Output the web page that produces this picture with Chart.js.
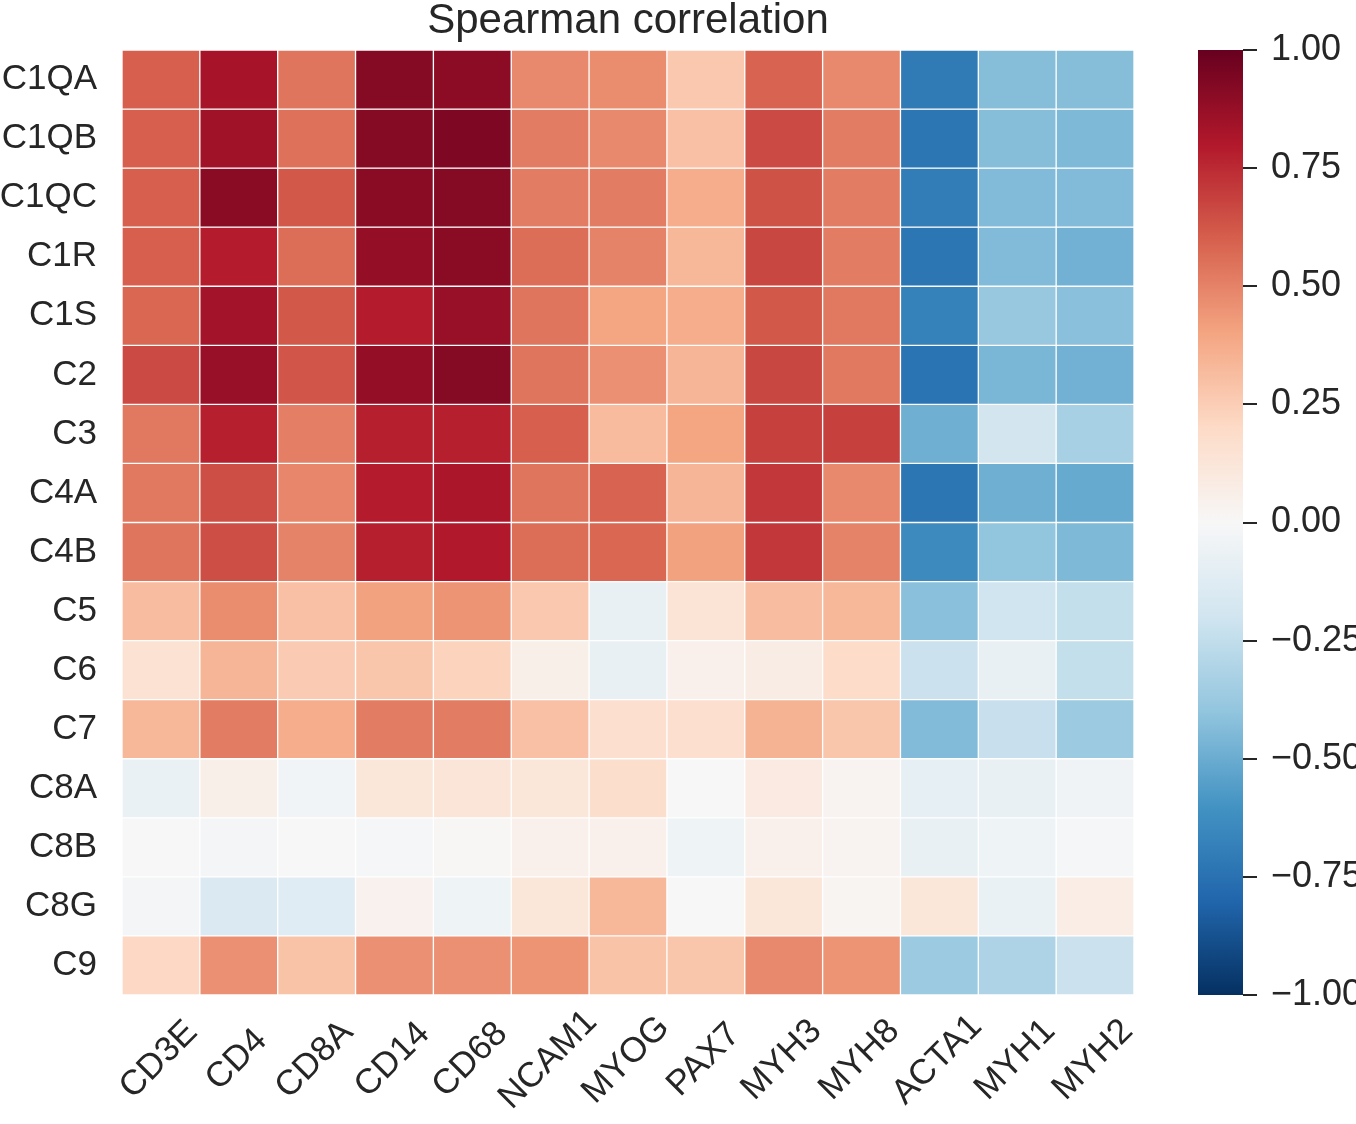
<!DOCTYPE html>
<html>
<head>
<meta charset="utf-8">
<title>Spearman correlation</title>
<script src="https://cdn.jsdelivr.net/npm/chart.js@4.4.1/dist/chart.umd.min.js"></script>
<style>
    html, body { margin: 0; padding: 0; background: #fff; overflow: hidden; }
    body { width: 1356px; height: 1124px; position: relative; }
    #heatmap { position: absolute; left: 0; top: 0; }
    #colorbar { position: absolute; left: 1150px; top: 0; }
</style>
</head>
<body>
<canvas id="heatmap" width="1150" height="1124"></canvas>
<canvas id="colorbar" width="260" height="1124"></canvas>
<script>
// =========================================
// Spearman correlation heatmap (complement genes vs. cell markers)
// =========================================

// --- ข้อมูล (data) ---
const rowLabels = ['C1QA', 'C1QB', 'C1QC', 'C1R', 'C1S', 'C2', 'C3', 'C4A', 'C4B',
                   'C5', 'C6', 'C7', 'C8A', 'C8B', 'C8G', 'C9'];
const colLabels = ['CD3E', 'CD4', 'CD8A', 'CD14', 'CD68', 'NCAM1', 'MYOG', 'PAX7',
                   'MYH3', 'MYH8', 'ACTA1', 'MYH1', 'MYH2'];

const c1qa = [0.60, 0.83, 0.54, 0.92, 0.90, 0.48, 0.47, 0.27, 0.59, 0.48, -0.71, -0.43, -0.43];
const c1qb = [0.60, 0.85, 0.55, 0.92, 0.94, 0.52, 0.48, 0.30, 0.66, 0.52, -0.73, -0.43, -0.45];
const c1qc = [0.60, 0.91, 0.62, 0.91, 0.92, 0.52, 0.52, 0.37, 0.64, 0.52, -0.70, -0.44, -0.44];
const c1r  = [0.60, 0.79, 0.56, 0.88, 0.91, 0.56, 0.50, 0.33, 0.67, 0.52, -0.73, -0.44, -0.48];
const c1s  = [0.58, 0.84, 0.62, 0.79, 0.87, 0.54, 0.40, 0.37, 0.62, 0.53, -0.68, -0.38, -0.42];
const c2   = [0.66, 0.87, 0.63, 0.88, 0.92, 0.54, 0.46, 0.34, 0.67, 0.53, -0.74, -0.46, -0.48];
const c3   = [0.53, 0.78, 0.51, 0.78, 0.78, 0.60, 0.32, 0.40, 0.69, 0.69, -0.49, -0.19, -0.33];
const c4a  = [0.53, 0.65, 0.49, 0.79, 0.82, 0.54, 0.59, 0.34, 0.71, 0.48, -0.73, -0.49, -0.51];
const c4b  = [0.54, 0.65, 0.50, 0.78, 0.80, 0.56, 0.58, 0.41, 0.71, 0.50, -0.64, -0.40, -0.45];
const c5   = [0.31, 0.47, 0.30, 0.41, 0.45, 0.27, -0.08, 0.14, 0.31, 0.33, -0.42, -0.20, -0.24];
const c6   = [0.15, 0.34, 0.26, 0.28, 0.23, 0.06, -0.08, 0.05, 0.08, 0.19, -0.22, -0.08, -0.24];
const c7   = [0.33, 0.52, 0.37, 0.52, 0.52, 0.30, 0.17, 0.17, 0.35, 0.28, -0.44, -0.23, -0.37];
const c8a  = [-0.07, 0.06, -0.03, 0.12, 0.13, 0.12, 0.18, 0.00, 0.09, 0.03, -0.09, -0.08, -0.04];
const c8b  = [0.00, -0.02, 0.00, -0.01, 0.01, 0.05, 0.05, -0.05, 0.05, 0.03, -0.08, -0.05, -0.01];
const c8g  = [-0.02, -0.15, -0.12, 0.04, -0.05, 0.12, 0.33, 0.00, 0.12, 0.02, 0.12, -0.07, 0.07];
const c9   = [0.21, 0.46, 0.29, 0.46, 0.46, 0.45, 0.29, 0.28, 0.48, 0.45, -0.37, -0.31, -0.22];

const corrValues = [c1qa, c1qb, c1qc, c1r, c1s, c2, c3, c4a, c4b, c5, c6, c7, c8a, c8b, c8g, c9];

const cbarTicks = [-1, -0.75, -0.5, -0.25, 0, 0.25, 0.5, 0.75, 1];

// --- colormap RdBu_r (จุดสีหลัก 11 จุด) ---
const RDBU_R = [
    [5, 48, 97], [33, 102, 172], [67, 147, 195], [146, 197, 222], [209, 229, 240],
    [247, 247, 247], [253, 219, 199], [244, 165, 130], [214, 96, 77], [178, 24, 43], [103, 0, 31]
];
const TEXT_COLOR = '#262626';
const FONT_FAMILY = '"Liberation Sans", Arial, sans-serif';

Chart.defaults.font.family = FONT_FAMILY;
Chart.defaults.color = TEXT_COLOR;

/**
 * แปลงค่า -1..1 เป็นสี
 */
function rdbuColor(v) {
    const t = (Math.max(-1, Math.min(1, v)) + 1) / 2 * 10;
    const i = Math.min(9, Math.floor(t));
    const f = t - i;
    const a = RDBU_R[i], b = RDBU_R[i + 1];
    const c = a.map((x, k) => Math.round(x + (b[k] - x) * f));
    return `rgb(${c[0]},${c[1]},${c[2]})`;
}

function cbarGradient(ctx) {
    const area = ctx.chart.chartArea;
    if (!area) return null;
    const g = ctx.chart.ctx.createLinearGradient(0, area.bottom, 0, area.top);
    RDBU_R.forEach((c, i) => g.addColorStop(i / 10, `rgb(${c[0]},${c[1]},${c[2]})`));
    return g;
}

// ป้ายแกน x หมุน 45° แบบจัดกึ่งกลางที่ตำแหน่ง tick (เหมือน matplotlib ha='center')
const rotatedXLabels = {
    id: 'rotatedXLabels',
    afterDraw(chart) {
        const xs = chart.scales.x;
        const ctx = chart.ctx;
        ctx.save();
        ctx.font = `35px ${FONT_FAMILY}`;
        ctx.fillStyle = TEXT_COLOR;
        ctx.textAlign = 'center';
        ctx.textBaseline = 'middle';
        colLabels.forEach((label, i) => {
            ctx.save();
            ctx.translate(xs.getPixelForValue(i) - 2, chart.chartArea.bottom + 65);
            ctx.rotate(-Math.PI / 4);
            ctx.fillText(label, 0, 0);
            ctx.restore();
        });
        ctx.restore();
    }
};

// --- 1. Heatmap (floating bars, one dataset per row) ---
const heatDatasets = corrValues.map((row, r) => ({
    label: rowLabels[r],
    data: row.map(() => [r, r + 1]),
    backgroundColor: row.map(rdbuColor),
    borderColor: '#ffffff',
    borderWidth: 1,
    borderSkipped: false,
    grouped: false,
    categoryPercentage: 1,
    barPercentage: 1
}));

new Chart(document.getElementById('heatmap'), {
    type: 'bar',
    data: { labels: colLabels, datasets: heatDatasets },
    plugins: [rotatedXLabels],
    options: {
        responsive: false,
        animation: false,
        layout: { padding: { top: 0, right: 16, bottom: 0, left: 0 } },
        plugins: {
            legend: { display: false },
            tooltip: { enabled: false },
            title: {
                display: true,
                text: 'Spearman correlation',
                fullSize: false,
                color: TEXT_COLOR,
                font: { size: 42, weight: 'normal', lineHeight: 1.0 },
                padding: { top: 0, bottom: 8 }
            }
        },
        scales: {
            x: {
                grid: { display: false },
                border: { display: false },
                ticks: { display: false },
                afterFit: axis => { axis.height = 129; }
            },
            y: {
                min: 0,
                max: rowLabels.length,
                reverse: true,
                grid: { display: false, drawTicks: false },
                border: { display: false },
                afterFit: axis => { axis.width = 122; },
                afterBuildTicks: axis => {
                    axis.ticks = rowLabels.map((_, i) => ({ value: i + 0.5 }));
                },
                ticks: {
                    autoSkip: false,
                    padding: 25,
                    font: { size: 35 },
                    color: TEXT_COLOR,
                    callback: (v, i) => rowLabels[i]
                }
            }
        }
    }
});

// --- 2. Colorbar ---
new Chart(document.getElementById('colorbar'), {
    type: 'bar',
    data: {
        labels: [''],
        datasets: [{
            data: [[-1, 1]],
            backgroundColor: cbarGradient,
            borderWidth: 0,
            categoryPercentage: 1,
            barPercentage: 1
        }]
    },
    options: {
        responsive: false,
        animation: false,
        layout: { padding: { top: 50, right: 0, bottom: 129, left: 48 } },
        plugins: {
            legend: { display: false },
            tooltip: { enabled: false }
        },
        scales: {
            x: { display: false },
            y: {
                position: 'right',
                min: -1,
                max: 1,
                border: { display: false },
                grid: {
                    drawOnChartArea: false,
                    drawTicks: true,
                    tickLength: 14,
                    lineWidth: 2,
                    color: TEXT_COLOR
                },
                afterFit: axis => { axis.width = 167; },
                afterBuildTicks: axis => {
                    axis.ticks = cbarTicks.map(v => ({ value: v }));
                },
                ticks: {
                    padding: 14,
                    font: { size: 36 },
                    color: TEXT_COLOR,
                    callback: v => (v < 0 ? '\u2212' : '') + Math.abs(v).toFixed(2)
                }
            }
        }
    }
});
</script>
</body>
</html>
